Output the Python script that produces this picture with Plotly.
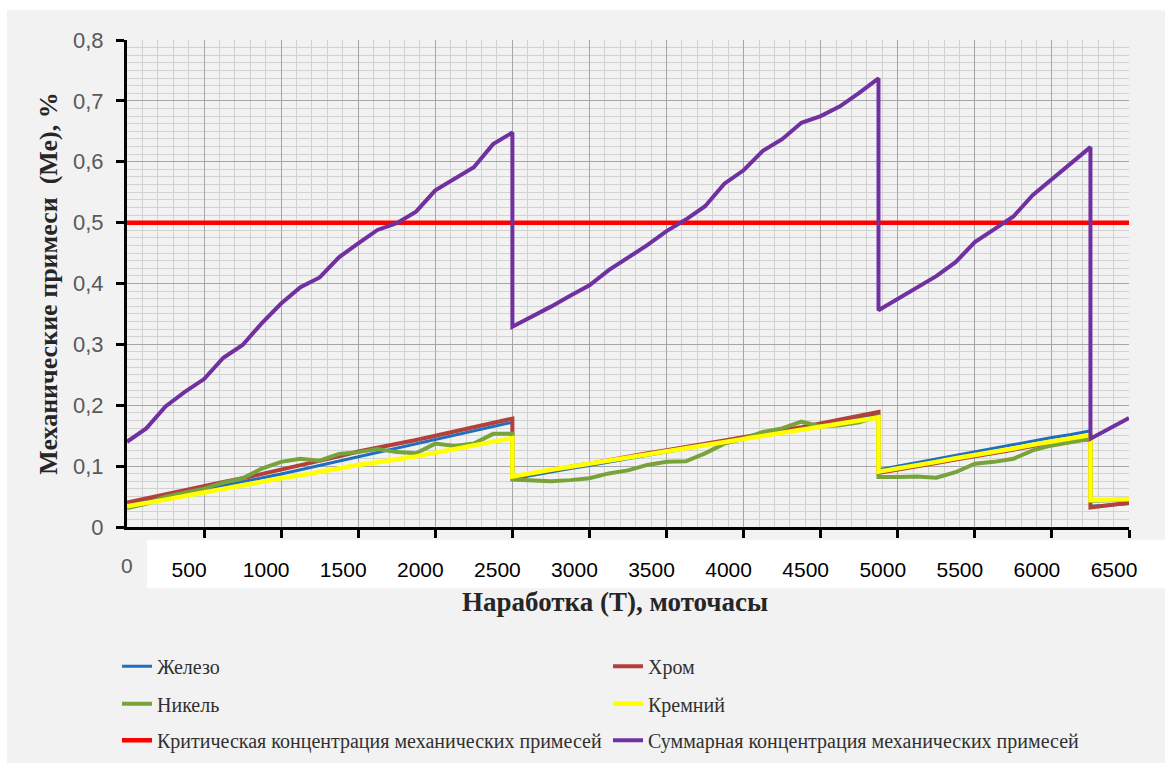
import plotly.graph_objects as go

# ---------------- data ----------------
hours = [0, 125, 250, 375, 500, 625, 750, 875, 1000, 1125, 1250, 1375, 1500, 1625, 1750, 1875, 2000, 2125, 2250, 2375, 2500,
         2500, 2625, 2750, 2875, 3000, 3125, 3250, 3375, 3500, 3625, 3750, 3875, 4000, 4125, 4250, 4375, 4500, 4625, 4750, 4875,
         4875, 5000, 5125, 5250, 5375, 5500, 5625, 5750, 5875, 6000, 6125, 6250,
         6250, 6375, 6500]

iron = [0.035, 0.042, 0.048, 0.055, 0.062, 0.068, 0.074, 0.081, 0.087, 0.094, 0.101, 0.108, 0.115, 0.122, 0.129, 0.136, 0.143, 0.150, 0.157, 0.164, 0.172,
        0.079, 0.085, 0.090, 0.096, 0.101, 0.107, 0.112, 0.118, 0.123, 0.129, 0.134, 0.140, 0.145, 0.151, 0.156, 0.162, 0.167, 0.173, 0.179, 0.185,
        0.094, 0.100, 0.106, 0.112, 0.117, 0.123, 0.129, 0.135, 0.141, 0.147, 0.152, 0.158,
        0.034, 0.036, 0.038]

chrome = [0.040, 0.047, 0.054, 0.060, 0.067, 0.074, 0.080, 0.087, 0.094, 0.101, 0.109, 0.116, 0.124, 0.130, 0.137, 0.143, 0.150, 0.157, 0.164, 0.171, 0.178,
          0.082, 0.088, 0.093, 0.099, 0.104, 0.110, 0.115, 0.121, 0.126, 0.132, 0.137, 0.142, 0.148, 0.153, 0.159, 0.164, 0.170, 0.176, 0.183, 0.189,
          0.089, 0.094, 0.100, 0.105, 0.111, 0.116, 0.122, 0.127, 0.133, 0.138, 0.144, 0.149,
          0.032, 0.036, 0.040]

nickel = [0.031, 0.038, 0.050, 0.056, 0.063, 0.073, 0.080, 0.096, 0.107, 0.112, 0.109, 0.120, 0.123, 0.128, 0.123, 0.121, 0.137, 0.133, 0.137, 0.153, 0.153,
          0.078, 0.076, 0.075, 0.077, 0.080, 0.088, 0.093, 0.102, 0.107, 0.108, 0.121, 0.137, 0.145, 0.156, 0.162, 0.173, 0.165, 0.167, 0.172, 0.182,
          0.082, 0.082, 0.083, 0.081, 0.090, 0.104, 0.107, 0.112, 0.126, 0.134, 0.140, 0.145,
          0.043, 0.044, 0.045]

silicon = [0.034, 0.039, 0.045, 0.051, 0.057, 0.062, 0.068, 0.074, 0.080, 0.085, 0.090, 0.096, 0.102, 0.106, 0.111, 0.116, 0.122, 0.127, 0.133, 0.139, 0.146,
           0.083, 0.089, 0.094, 0.099, 0.104, 0.109, 0.114, 0.119, 0.124, 0.129, 0.134, 0.139, 0.144, 0.149, 0.154, 0.159, 0.164, 0.169, 0.174, 0.180,
           0.091, 0.096, 0.102, 0.107, 0.113, 0.118, 0.124, 0.129, 0.135, 0.140, 0.146, 0.151,
           0.044, 0.045, 0.046]

total = [0.140, 0.162, 0.198, 0.222, 0.243, 0.278, 0.299, 0.335, 0.367, 0.394, 0.410, 0.443, 0.466, 0.488, 0.499, 0.518, 0.553, 0.572, 0.591, 0.629, 0.648,
         0.329, 0.345, 0.362, 0.380, 0.397, 0.422, 0.443, 0.463, 0.486, 0.505, 0.527, 0.564, 0.586, 0.618, 0.637, 0.664, 0.675, 0.691, 0.713, 0.737,
         0.356, 0.375, 0.394, 0.412, 0.435, 0.468, 0.489, 0.510, 0.545, 0.571, 0.598, 0.624,
         0.145, 0.162, 0.179]

critical_hours = [0, 6500]
critical_values = [0.5, 0.5]

x_tickvals = [500, 1000, 1500, 2000, 2500, 3000, 3500, 4000, 4500, 5000, 5500, 6000, 6500]
x_ticktext = ["500", "1000", "1500", "2000", "2500", "3000", "3500", "4000", "4500", "5000", "5500", "6000", "6500"]
y_tickvals = [0, 0.1, 0.2, 0.3, 0.4, 0.5, 0.6, 0.7, 0.8]
y_ticktext = ["0", "0,1", "0,2", "0,3", "0,4", "0,5", "0,6", "0,7", "0,8"]

names = ["Железо", "Хром", "Никель", "Кремний",
         "Критическая концентрация механических примесей",
         "Суммарная концентрация механических примесей"]

# ---------------- geometry (px) ----------------
W, H = 1165, 772
L, R, T, B = 127, 36, 40, 239
PW, PH = W - L - R, H - T - B


def px_x(px):
    return (px - L) / PW


def px_y(py):
    return (H - B - py) / PH


fig = go.Figure()

series = [
    (names[0], hours, iron, "#1F6FC0", 3, "legend"),
    (names[1], hours, chrome, "#B2413B", 4, "legend"),
    (names[2], hours, nickel, "#78A23A", 4, "legend2"),
    (names[3], hours, silicon, "#FFFF00", 4.5, "legend2"),
    (names[4], critical_hours, critical_values, "#FF0000", 4.5, "legend3"),
    (names[5], hours, total, "#7030A0", 4, "legend3"),
]
for name, xs, ys, col, w, lg in series:
    fig.add_trace(go.Scatter(x=xs, y=ys, mode="lines", name=name,
                             line=dict(color=col, width=w), legend=lg))

legend_common = dict(orientation="h", xanchor="left", yanchor="middle",
                     x=px_x(117), bgcolor="rgba(0,0,0,0)",
                     font=dict(family="Liberation Serif", size=20, color="#303030"),
                     entrywidth=446, entrywidthmode="pixels", itemclick=False)

fig.update_layout(
    width=W, height=H,
    margin=dict(l=L, r=R, t=T, b=B),
    paper_bgcolor="white",
    plot_bgcolor="#F2F2F2",
    legend=dict(y=px_y(674), **legend_common),
    legend2=dict(y=px_y(712), **legend_common),
    legend3=dict(y=px_y(749), **legend_common),
    xaxis=dict(
        range=[0, 6500], tickmode="array", tickvals=x_tickvals, ticktext=x_ticktext,
        showgrid=True, gridcolor="#A6A6A6", gridwidth=1,
        minor=dict(dtick=100, tick0=0, showgrid=True, gridcolor="#D2D2D2", gridwidth=1, ticks=""),
        showline=True, linecolor="black", linewidth=3,
        ticks="outside", ticklen=8, tickwidth=3, tickcolor="black",
        tickfont=dict(family="Liberation Sans", size=21, color="black"),
        ticklabelshift=-15, ticklabelstandoff=14,
        zeroline=False,
    ),
    yaxis=dict(
        range=[0, 0.8], tickmode="array", tickvals=y_tickvals, ticktext=y_ticktext,
        showgrid=True, gridcolor="#A6A6A6", gridwidth=1,
        minor=dict(dtick=0.0125, tick0=0, showgrid=True, gridcolor="#D2D2D2", gridwidth=1, ticks=""),
        showline=True, linecolor="black", linewidth=3,
        ticks="outside", ticklen=8, tickwidth=3, tickcolor="black",
        tickfont=dict(family="Liberation Sans", size=22, color="#595959"),
        ticklabelstandoff=8,
        zeroline=False,
        title=dict(text="Механические примеси  (Ме), %", standoff=8,
                   font=dict(family="Liberation Serif", size=26, color="#262626", weight="bold")),
    ),
    shapes=[
        dict(type="rect", xref="paper", yref="paper", layer="below",
             x0=px_x(7), x1=px_x(1165), y0=px_y(772), y1=px_y(10),
             fillcolor="#F2F2F2", line=dict(width=0)),
        dict(type="rect", xref="paper", yref="paper", layer="below",
             x0=px_x(147), x1=px_x(1165), y0=px_y(595), y1=px_y(546),
             fillcolor="white", line=dict(width=0)),
    ],
    annotations=[
        dict(text="0", x=0, xref="x", y=px_y(572), yref="paper", showarrow=False,
             xanchor="center", yanchor="middle",
             font=dict(family="Liberation Sans", size=21, color="#595959")),
        dict(text="<b>Наработка (Т), моточасы</b>", x=px_x(615), xref="paper",
             y=px_y(609), yref="paper", showarrow=False, xanchor="center", yanchor="middle",
             font=dict(family="Liberation Serif", size=27, color="#262626")),
    ],
)

fig.write_html("out.html", config={"displayModeBar": False},
               post_script="document.body.style.margin='0px';")
